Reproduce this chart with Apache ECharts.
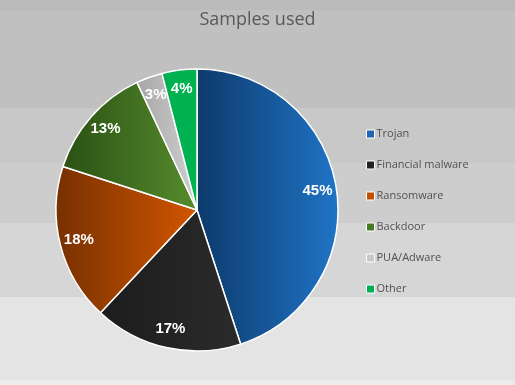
<!DOCTYPE html>
<html>
<head>
<meta charset="utf-8">
<script src="https://cdn.jsdelivr.net/npm/echarts@6/dist/echarts.min.js"></script>
<style>html,body{margin:0;padding:0;}#c{width:515px;height:385px;}</style>
</head>
<body>
<div id="c"></div>
<script>
var categories = ['Trojan', 'Financial malware', 'Ransomware', 'Backdoor', 'PUA/Adware', 'Other'];
var values = [45, 17, 18, 13, 3, 4];
var titleText = 'Samples used';

var G = echarts.graphic.LinearGradient;
var sliceGrad = [
  ['#0d3a6b', '#1f74c6'],
  ['#1c1c1c', '#2b2b2b'],
  ['#773000', '#d25600'],
  ['#2a5013', '#568c2c'],
  ['#a6a6a6', '#d0d0d0'],
  ['#00b050', '#00b351']
];
var legendColors = ['#1f65b2', '#222222', '#c24f00', '#487a24', '#c8c8c8', '#00b050'];

var mainData = categories.map(function (n, i) {
  return {
    name: n, value: values[i],
    itemStyle: { color: new G(0, 0, 1, 0, [{offset: 0, color: sliceGrad[i][0]}, {offset: 1, color: sliceGrad[i][1]}]) }
  };
});
var labelData = categories.map(function (n, i) { return { name: n, value: values[i] }; });

var bg = new G(0, 0, 0, 1, [
  {offset: 0, color: '#bababa'}, {offset: 0.026, color: '#bababa'},
  {offset: 0.026, color: '#c0c0c0'}, {offset: 0.28, color: '#c0c0c0'},
  {offset: 0.28, color: '#c8c8c8'}, {offset: 0.423, color: '#c8c8c8'},
  {offset: 0.423, color: '#cdcdcd'}, {offset: 0.579, color: '#cdcdcd'},
  {offset: 0.579, color: '#d6d6d6'}, {offset: 0.771, color: '#d6d6d6'},
  {offset: 0.771, color: '#e4e4e4'}, {offset: 0.987, color: '#e4e4e4'},
  {offset: 0.987, color: '#ececec'}, {offset: 1, color: '#ececec'}
]);

var chart = echarts.init(document.getElementById('c'), null, {renderer: 'canvas'});
chart.setOption({
  backgroundColor: bg,
  animation: false,
  title: {
    text: titleText, left: 'center', top: 6,
    textStyle: { fontFamily: 'Open Sans', fontSize: 18, fontWeight: 'normal', color: '#595959' }
  },
  legend: {
    orient: 'vertical', left: 361, top: 122,
    itemWidth: 8, itemHeight: 8, itemGap: 17,
    icon: 'rect',
    textStyle: { fontFamily: 'Open Sans', fontSize: 11, color: '#505050', lineHeight: 14, padding: [0, 0, 0, -3] },
    data: categories.map(function (n, i) {
      return { name: n, itemStyle: { color: legendColors[i], borderColor: '#ffffff', borderWidth: 1 } };
    })
  },
  series: [
    {
      type: 'pie', center: [197, 210], radius: [0, 141], startAngle: 90, clockwise: true,
      avoidLabelOverlap: false,
      itemStyle: { borderColor: '#ffffff', borderWidth: 1.5 },
      label: { show: false }, labelLine: { show: false },
      emphasis: { disabled: true },
      data: mainData
    },
    {
      type: 'pie', center: [197, 210], radius: [97, 141], startAngle: 90, clockwise: true,
      avoidLabelOverlap: false, silent: true,
      itemStyle: { color: 'rgba(0,0,0,0)', borderWidth: 0 },
      label: {
        show: true, position: 'inside', formatter: '{d}%',
        fontFamily: 'Liberation Sans', fontWeight: 'bold', fontSize: 15, color: '#ffffff'
      },
      labelLine: { show: false },
      emphasis: { disabled: true },
      data: labelData
    }
  ]
});
</script>
</body>
</html>
